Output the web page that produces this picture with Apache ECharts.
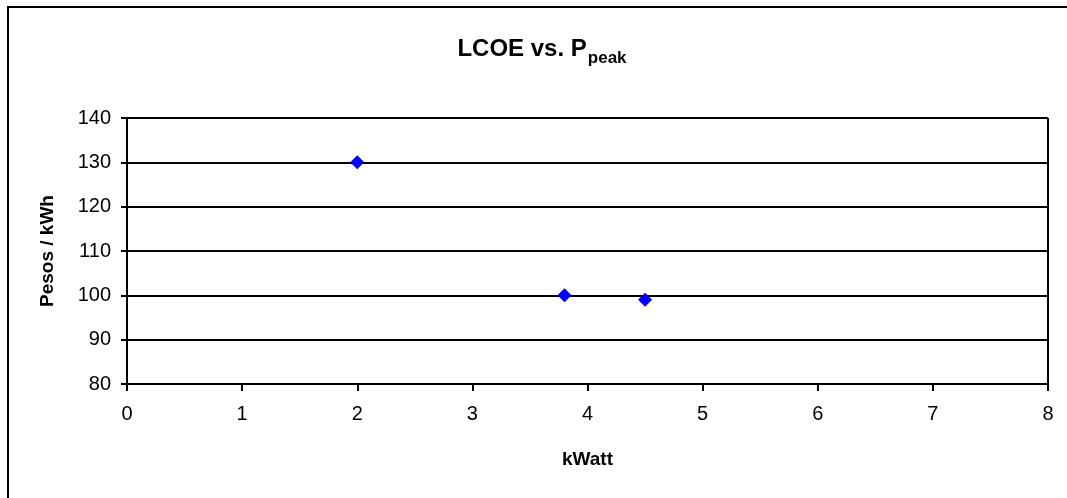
<!DOCTYPE html>
<html><head><meta charset="utf-8">
<script src="https://cdn.jsdelivr.net/npm/echarts@6/dist/echarts.min.js"></script>
<style>html,body{margin:0;padding:0;background:#fff}#c{width:1067px;height:498px}</style>
</head><body><div id="c"></div>
<script>
const xValues = [2, 3.8, 4.5];
const yValues = [130, 100, 99];
const xTicks = [0, 1, 2, 3, 4, 5, 6, 7, 8];
const yTicks = [80, 90, 100, 110, 120, 130, 140];

const chart = echarts.init(document.getElementById('c'), null, {renderer: 'canvas'});
const F = 'Liberation Sans, Arial, sans-serif';
chart.setOption({
  animation: false,
  backgroundColor: '#fff',
  title: {
    text: '{m|LCOE vs. P}{s|peak}',
    left: 537, top: 28, textAlign: 'center',
    textStyle: {
      rich: {
        m: {fontFamily: F, fontSize: 24, fontWeight: 'bold', color: '#000', verticalAlign: 'bottom', lineHeight: 28},
        s: {fontFamily: F, fontSize: 17, fontWeight: 'bold', color: '#000', verticalAlign: 'bottom', lineHeight: 18, padding: [0,0,-6,1]}
      }
    }
  },
  graphic: [
    {type: 'line', shape: {x1: 8, y1: 7, x2: 8, y2: 498}, style: {stroke: '#000', lineWidth: 2}},
    {type: 'line', shape: {x1: 7, y1: 7, x2: 1067, y2: 7}, style: {stroke: '#000', lineWidth: 2}},
    {type: 'line', shape: {x1: 1048, y1: 118, x2: 1048, y2: 384}, style: {stroke: '#000', lineWidth: 2}}
  ],
  grid: {left: 127, top: 118, width: 921, height: 266, show: false},
  xAxis: {
    type: 'value', min: xTicks[0], max: xTicks[xTicks.length-1], interval: 1,
    name: 'kWatt', nameLocation: 'middle', nameGap: 66,
    nameTextStyle: {fontFamily: F, fontSize: 19, fontWeight: 'bold', color: '#000'},
    axisLine: {show: true, lineStyle: {color: '#000', width: 2}},
    axisTick: {show: true, inside: false, length: 7, lineStyle: {color: '#000', width: 2}},
    axisLabel: {fontFamily: F, fontSize: 20, color: '#000', margin: 20},
    splitLine: {show: false}
  },
  yAxis: {
    type: 'value', min: yTicks[0], max: yTicks[yTicks.length-1], interval: 10,
    name: 'Pesos / kWh', nameLocation: 'middle', nameGap: 70,
    nameTextStyle: {fontFamily: F, fontSize: 19, fontWeight: 'bold', color: '#000'},
    axisLine: {show: true, lineStyle: {color: '#000', width: 2}},
    axisTick: {show: true, inside: false, length: 6, lineStyle: {color: '#000', width: 2}},
    axisLabel: {fontFamily: F, fontSize: 20, color: '#000', margin: 16},
    splitLine: {show: true, lineStyle: {color: '#000', width: 2}}
  },
  series: [{
    type: 'scatter',
    symbol: 'diamond',
    symbolSize: 14,
    itemStyle: {color: '#0000FF', opacity: 1},
    data: xValues.map((x, i) => [x, yValues[i]])
  }]
});
</script></body></html>
